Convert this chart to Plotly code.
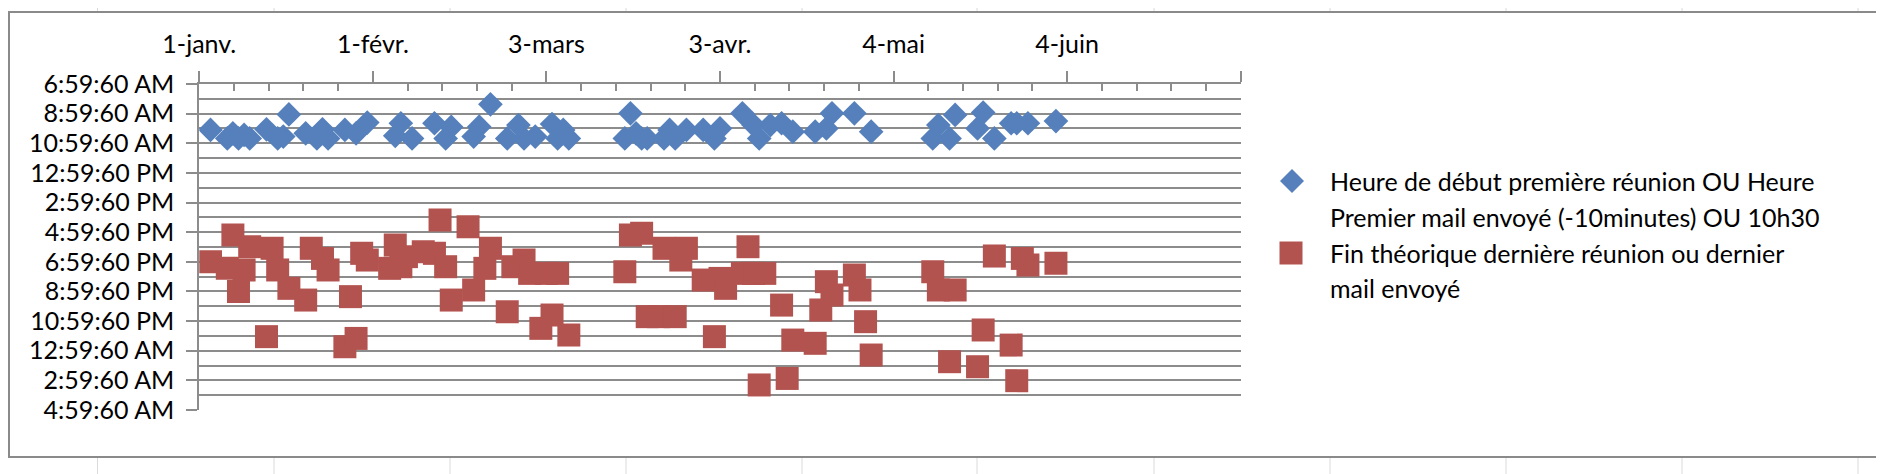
import pandas as pd
import plotly.graph_objects as go

# the page body has an 8px margin, so the figure is drawn 8px in from the corner
OFF = 8
W, H = 1884 - OFF, 474 - OFF
FONT = "Lato"
GRID = "#8c8c8c"
BLUE = "#5580bb"
RED = "#b3534f"

# Heure de début (heures décimales) -- première réunion / premier mail / 10h30
debut_dates = [
    "2016-01-03", "2016-01-06", "2016-01-07", "2016-01-08", "2016-01-09", "2016-01-10",
    "2016-01-13", "2016-01-15", "2016-01-16", "2016-01-17", "2016-01-20", "2016-01-22",
    "2016-01-23", "2016-01-24", "2016-01-27", "2016-01-29", "2016-01-31", "2016-02-05",
    "2016-02-06", "2016-02-08", "2016-02-12", "2016-02-14", "2016-02-15", "2016-02-19",
    "2016-02-20", "2016-02-22", "2016-02-25", "2016-02-27", "2016-02-28", "2016-03-01",
    "2016-03-04", "2016-03-05", "2016-03-06", "2016-03-07", "2016-03-17", "2016-03-18",
    "2016-03-19", "2016-03-20", "2016-03-21", "2016-03-24", "2016-03-25", "2016-03-26",
    "2016-03-28", "2016-03-31", "2016-04-02", "2016-04-03", "2016-04-07", "2016-04-09",
    "2016-04-10", "2016-04-12", "2016-04-14", "2016-04-16", "2016-04-20", "2016-04-22",
    "2016-04-23", "2016-04-27", "2016-04-30", "2016-05-11", "2016-05-12", "2016-05-14",
    "2016-05-15", "2016-05-19", "2016-05-20", "2016-05-22", "2016-05-25", "2016-05-26",
    "2016-05-28", "2016-06-02",
]
debut_heures = [
    10.10, 10.67, 10.33, 10.67, 10.44, 10.67,
    10.06, 10.67, 10.55, 9.05, 10.33, 10.67,
    10.06, 10.67, 10.10, 10.33, 9.60, 10.50,
    9.65, 10.67, 9.65, 10.67, 9.90, 10.55,
    9.88, 8.37, 10.67, 9.77, 10.67, 10.55,
    9.70, 10.67, 10.10, 10.67, 10.67, 8.98,
    10.33, 10.67, 10.67, 10.67, 10.10, 10.67,
    10.10, 10.10, 10.67, 10.00, 8.98, 9.77,
    10.67, 9.77, 9.65, 10.22, 10.22, 10.00,
    8.98, 8.98, 10.22, 10.67, 9.77, 10.67,
    9.09, 10.00, 8.93, 10.67, 9.65, 9.65,
    9.65, 9.50,
]

# Fin théorique (heures décimales, > 24 = après minuit)
fin_dates = [
    "2016-01-03", "2016-01-06", "2016-01-07", "2016-01-08", "2016-01-09", "2016-01-10",
    "2016-01-13", "2016-01-14", "2016-01-15", "2016-01-17", "2016-01-20", "2016-01-21",
    "2016-01-23", "2016-01-24", "2016-01-27", "2016-01-28", "2016-01-29", "2016-01-30",
    "2016-01-31", "2016-02-04", "2016-02-05", "2016-02-06", "2016-02-07", "2016-02-10",
    "2016-02-12", "2016-02-13", "2016-02-14", "2016-02-15", "2016-02-18", "2016-02-19",
    "2016-02-21", "2016-02-22", "2016-02-25", "2016-02-26", "2016-02-28", "2016-02-29",
    "2016-03-02", "2016-03-03", "2016-03-04", "2016-03-05", "2016-03-07", "2016-03-17",
    "2016-03-18", "2016-03-20", "2016-03-21", "2016-03-23", "2016-03-24", "2016-03-26",
    "2016-03-27", "2016-03-28", "2016-03-31", "2016-04-02", "2016-04-03", "2016-04-04",
    "2016-04-07", "2016-04-08", "2016-04-09", "2016-04-10", "2016-04-11", "2016-04-14",
    "2016-04-15", "2016-04-16", "2016-04-20", "2016-04-21", "2016-04-22", "2016-04-23",
    "2016-04-27", "2016-04-28", "2016-04-29", "2016-04-30", "2016-05-11", "2016-05-12",
    "2016-05-14", "2016-05-15", "2016-05-19", "2016-05-20", "2016-05-22", "2016-05-25",
    "2016-05-26", "2016-05-27", "2016-05-28", "2016-06-02",
]
fin_heures = [
    18.99, 19.44, 17.19, 21.00, 19.55, 17.98,
    24.05, 18.09, 19.55, 20.79, 21.58, 18.09,
    18.77, 19.55, 24.73, 21.35, 24.17, 18.43,
    18.88, 19.44, 17.87, 19.33, 18.65, 18.32,
    18.43, 16.18, 19.33, 21.58, 16.63, 20.90,
    19.44, 18.09, 22.37, 19.33, 18.88, 19.78,
    23.49, 19.78, 22.59, 19.78, 23.94, 19.67,
    17.19, 17.08, 22.70, 22.70, 18.09, 22.70,
    18.88, 18.09, 20.23, 24.05, 20.12, 20.79,
    19.78, 17.98, 19.78, 27.31, 19.78, 21.92,
    26.87, 24.28, 24.50, 22.25, 20.34, 21.24,
    19.89, 20.90, 23.04, 25.29, 19.67, 20.90,
    25.74, 20.90, 26.08, 23.60, 18.61, 24.62,
    27.02, 18.77, 19.22, 19.10,
]

x_tick_dates = ["2016-01-01", "2016-02-01", "2016-03-03", "2016-04-03",
                "2016-05-04", "2016-06-04", "2016-07-05"]
x_tick_labels = ["1-janv.", "1-févr.", "3-mars", "3-avr.", "4-mai", "4-juin", ""]

y_tick_hours = [7, 9, 11, 13, 15, 17, 19, 21, 23, 25, 27, 29]
y_tick_labels = ["6:59:60 AM", "8:59:60 AM", "10:59:60 AM", "12:59:60 PM",
                 "2:59:60 PM", "4:59:60 PM", "6:59:60 PM", "8:59:60 PM",
                 "10:59:60 PM", "12:59:60 AM", "2:59:60 AM", "4:59:60 AM"]

nom_debut = "Heure de début première réunion OU Heure Premier mail envoyé (-10minutes) OU 10h30"
nom_fin = "Fin théorique dernière réunion ou dernier mail envoyé"
legend_lines = ["Heure de début première réunion OU Heure",
                "Premier mail envoyé (-10minutes) OU 10h30",
                "Fin théorique dernière réunion ou dernier",
                "mail envoyé"]

# plot area in screen pixels
PL, PR, PT, PB = 199.3, 1240.7, 84, 410


def px(x):
    return (x - OFF) / W


def py(y):
    return 1 - (y - OFF) / H


# minor ticks every 6.2 days (5 per 31-day major unit)
start = pd.Timestamp("2016-01-01")
minor_vals = [(start + pd.Timedelta(hours=148.8 * k)).strftime("%Y-%m-%d %H:%M:%S")
              for k in range(31) if k % 5]

fig = go.Figure()
fig.add_trace(go.Scatter(
    x=debut_dates, y=debut_heures, mode="markers", name=nom_debut,
    marker=dict(symbol="diamond", size=19, color=BLUE, line=dict(width=0)),
))
fig.add_trace(go.Scatter(
    x=fin_dates, y=fin_heures, mode="markers", name=nom_fin,
    marker=dict(symbol="square", size=23, color=RED, line=dict(width=0)),
))

shapes = []
# spreadsheet cells behind the chart
for cx in [97.5, 274, 450, 626, 802, 977, 1154, 1330, 1506, 1682, 1858]:
    shapes.append(dict(type="line", xref="paper", yref="paper", layer="below",
                       x0=px(cx), x1=px(cx), y0=0, y1=1,
                       line=dict(color="#dadada", width=1)))
for ry in range(17, 474, 40):
    shapes.append(dict(type="line", xref="paper", yref="paper", layer="below",
                       x0=0, x1=1, y0=py(ry), y1=py(ry),
                       line=dict(color="#dadada", width=1)))
# chart area
shapes.append(dict(type="rect", xref="paper", yref="paper", layer="below",
                   x0=px(9), x1=px(1879), y0=py(457), y1=py(12),
                   fillcolor="white", line=dict(color="#8a8a8a", width=2)))
# legend symbols
dx, dy = 12, 12
cx, cy = 1292, 181
shapes.append(dict(type="path", xref="paper", yref="paper",
                   path=(f"M {px(cx - dx)} {py(cy)} L {px(cx)} {py(cy - dy)} "
                         f"L {px(cx + dx)} {py(cy)} L {px(cx)} {py(cy + dy)} Z"),
                   fillcolor=BLUE, line=dict(width=0)))
cx, cy = 1291, 253
shapes.append(dict(type="rect", xref="paper", yref="paper",
                   x0=px(cx - 11.5), x1=px(cx + 11.5), y0=py(cy + 11.5), y1=py(cy - 11.5),
                   fillcolor=RED, line=dict(width=0)))

annotations = []
for line, ly in zip(legend_lines, [181, 217, 253, 288]):
    annotations.append(dict(text=line, xref="paper", yref="paper", x=px(1328), y=py(ly),
                            xanchor="left", yanchor="middle", showarrow=False,
                            font=dict(family=FONT, size=25, color="black")))

fig.update_layout(
    width=W, height=H,
    margin=dict(l=0, r=0, t=0, b=0),
    paper_bgcolor="white",
    plot_bgcolor="rgba(0,0,0,0)",
    showlegend=False,
    shapes=shapes,
    annotations=annotations,
    font=dict(family=FONT, size=25, color="black"),
    xaxis=dict(
        type="date", domain=[px(PL), px(PR)], range=["2016-01-01", "2016-07-05"],
        side="top", showline=True, linecolor=GRID, linewidth=2,
        ticks="outside", ticklen=11, tickwidth=2, tickcolor=GRID,
        tickmode="array", tickvals=x_tick_dates, ticktext=x_tick_labels,
        showgrid=False, zeroline=False, ticklabelstandoff=8,
        tickfont=dict(family=FONT, size=25, color="black"),
        minor=dict(tickmode="array", tickvals=minor_vals, ticks="inside", ticklen=7,
                   tickwidth=2, tickcolor=GRID, showgrid=False),
        automargin=False,
    ),
    yaxis=dict(
        domain=[py(PB), py(PT)], range=[29, 7],
        showline=True, linecolor=GRID, linewidth=2,
        ticks="outside", ticklen=11, tickwidth=2, tickcolor=GRID,
        tickmode="array", tickvals=y_tick_hours, ticktext=y_tick_labels,
        showgrid=True, gridcolor=GRID, gridwidth=2, zeroline=False,
        ticklabelstandoff=7,
        tickfont=dict(family=FONT, size=25, color="black"),
        minor=dict(dtick=1, tick0=7, showgrid=True, gridcolor=GRID, gridwidth=2, ticks=""),
        automargin=False,
    ),
)

fig.write_html("out.html")
